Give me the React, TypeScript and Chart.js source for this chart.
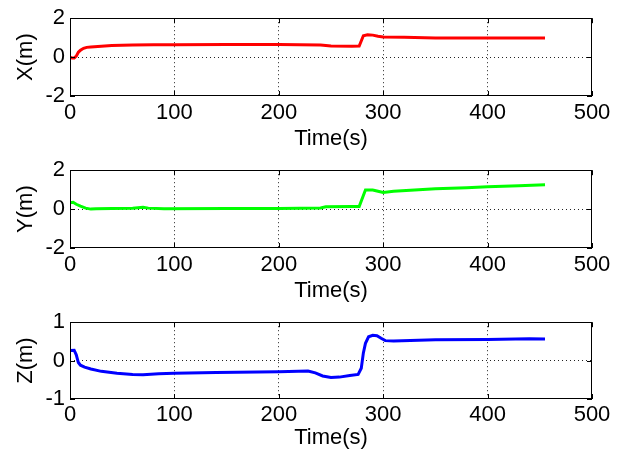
import React, { useEffect, useRef } from "react";
import { Chart, registerables } from "chart.js";

Chart.register(...registerables);

// ---- Data ----
const TIME_TICKS = [0, 100, 200, 300, 400, 500];

const X_TIME = [0, 2, 4, 6, 8, 10, 13, 16, 20, 30, 40, 60, 80, 100, 150, 200, 240, 250, 270, 277, 281, 285, 290, 295, 300, 320, 350, 400, 455];
const X_VALUES = [0, -0.05, -0.05, 0.05, 0.25, 0.35, 0.45, 0.5, 0.52, 0.56, 0.6, 0.62, 0.63, 0.64, 0.65, 0.65, 0.62, 0.57, 0.56, 0.57, 1.1, 1.15, 1.13, 1.07, 1.03, 1.02, 0.98, 0.98, 0.98];

const Y_TIME = [0, 3, 6, 10, 15, 20, 25, 40, 60, 70, 75, 90, 150, 200, 240, 245, 270, 277, 281, 283, 290, 295, 300, 310, 330, 350, 380, 400, 430, 455];
const Y_VALUES = [0.33, 0.35, 0.25, 0.15, 0.05, 0.0, 0.02, 0.03, 0.05, 0.09, 0.05, 0.02, 0.03, 0.03, 0.06, 0.12, 0.13, 0.13, 0.7, 0.98, 0.98, 0.92, 0.86, 0.92, 0.98, 1.05, 1.1, 1.15, 1.2, 1.25];

const Z_TIME = [0, 4, 6, 8, 10, 14, 20, 30, 45, 60, 70, 85, 100, 140, 200, 228, 235, 242, 250, 258, 268, 276, 279, 281, 283, 286, 290, 294, 298, 302, 310, 350, 400, 440, 455];
const Z_VALUES = [0.26, 0.27, 0.15, -0.05, -0.12, -0.17, -0.22, -0.28, -0.33, -0.36, -0.37, -0.34, -0.33, -0.31, -0.29, -0.27, -0.32, -0.4, -0.44, -0.43, -0.39, -0.36, -0.2, 0.2, 0.45, 0.62, 0.66, 0.65, 0.58, 0.52, 0.51, 0.54, 0.55, 0.57, 0.56];

const FONT_FAMILY = "'Liberation Sans', Arial, Helvetica, sans-serif";

const boxPlugin = {
  id: "matlabBox",
  afterDatasetsDraw(chart: any) {
    const { ctx, chartArea, scales } = chart;
    const { left, right, top, bottom } = chartArea;
    ctx.save();
    ctx.strokeStyle = "#000";
    ctx.lineWidth = 1;
    ctx.setLineDash([]);
    ctx.strokeRect(Math.round(left) + 0.5, Math.round(top) + 0.5, Math.round(right - left) - 1, Math.round(bottom - top) - 1);
    const tl = 5;
    ctx.beginPath();
    scales.x.ticks.forEach((t: any) => {
      const px = Math.round(scales.x.getPixelForValue(t.value)) + 0.5;
      ctx.moveTo(px, bottom);
      ctx.lineTo(px, bottom - tl);
      ctx.moveTo(px, top);
      ctx.lineTo(px, top + tl);
    });
    scales.y.ticks.forEach((t: any) => {
      const py = Math.round(scales.y.getPixelForValue(t.value)) + 0.5;
      ctx.moveTo(left, py);
      ctx.lineTo(left + tl, py);
      ctx.moveTo(right, py);
      ctx.lineTo(right - tl, py);
    });
    ctx.stroke();
    ctx.restore();
  },
};

type PanelProps = {
  times: number[];
  values: number[];
  color: string;
  label: string;
  yMin: number;
  yMax: number;
  yStep: number;
  height: number;
  padTop: number;
  padBottom: number;
  xHeight: number;
  xTickPad: number;
};

function Panel(p: PanelProps) {
  const ref = useRef<HTMLCanvasElement | null>(null);
  useEffect(() => {
    if (!ref.current) return;
    const gridColor = (min: number, max: number) => (ctx: any) => {
      const v = ctx.tick ? ctx.tick.value : null;
      if (v === min || v === max) return "rgba(0,0,0,0)";
      return "#222";
    };
    const chart = new Chart(ref.current, {
      type: "line",
      data: {
        datasets: [
          {
            data: p.times.map((t, i) => ({ x: t, y: p.values[i] })),
            borderColor: p.color,
            backgroundColor: p.color,
            borderWidth: 3,
            pointRadius: 0,
            tension: 0,
            fill: false,
          },
        ],
      },
      options: {
        animation: false,
        responsive: false,
        devicePixelRatio: 1,
        layout: { padding: { left: 0, right: 32, top: p.padTop, bottom: p.padBottom } },
        plugins: { legend: { display: false }, tooltip: { enabled: false }, title: { display: false } },
        scales: {
          x: {
            type: "linear",
            min: 0,
            max: 500,
            afterBuildTicks: (scale: any) => {
              scale.ticks = TIME_TICKS.map((v) => ({ value: v }));
            },
            afterFit: (scale: any) => {
              scale.height = p.xHeight;
            },
            border: { display: false, dash: [1, 3] },
            grid: {
              color: gridColor(0, 500),
              lineWidth: 1,
              drawTicks: false,
            },
            ticks: {
              autoSkip: false,
              maxRotation: 0,
              padding: p.xTickPad,
              color: "#000",
              font: { family: FONT_FAMILY, size: 22 },
            },
            title: {
              display: true,
              text: "Time(s)",
              color: "#000",
              font: { family: FONT_FAMILY, size: 22 },
              padding: { top: 0, bottom: 0 },
            },
          },
          y: {
            type: "linear",
            min: p.yMin,
            max: p.yMax,
            ticks: {
              stepSize: p.yStep,
              autoSkip: false,
              padding: 5,
              color: "#000",
              font: { family: FONT_FAMILY, size: 22 },
            },
            afterFit: (scale: any) => {
              scale.width = 70;
            },
            border: { display: false, dash: [1, 3] },
            grid: {
              color: gridColor(p.yMin, p.yMax),
              lineWidth: 1,
              drawTicks: false,
            },
            title: {
              display: true,
              text: p.label,
              color: "#000",
              font: { family: FONT_FAMILY, size: 22 },
              padding: { top: 13, bottom: 0 },
            },
          },
        },
      },
      plugins: [boxPlugin],
    } as any);
    return () => chart.destroy();
  }, []);
  return (
    <div style={{ width: 624, height: p.height }}>
      <canvas ref={ref} width={624} height={p.height} style={{ display: "block" }} />
    </div>
  );
}

export default function App() {
  return (
    <div style={{ position: "absolute", left: 0, top: 0, width: 624, height: 460, background: "#fff" }}>
      <Panel times={X_TIME} values={X_VALUES} color="#ff0000" label="X(m)" yMin={-2} yMax={2} yStep={2} height={152} padTop={18} padBottom={0} xHeight={56} xTickPad={4} />
      <Panel times={Y_TIME} values={Y_VALUES} color="#00ff00" label="Y(m)" yMin={-2} yMax={2} yStep={2} height={152} padTop={18} padBottom={0} xHeight={56} xTickPad={4} />
      <Panel times={Z_TIME} values={Z_VALUES} color="#0000ff" label="Z(m)" yMin={-1} yMax={1} yStep={1} height={156} padTop={18} padBottom={9} xHeight={52} xTickPad={3} />
    </div>
  );
}
